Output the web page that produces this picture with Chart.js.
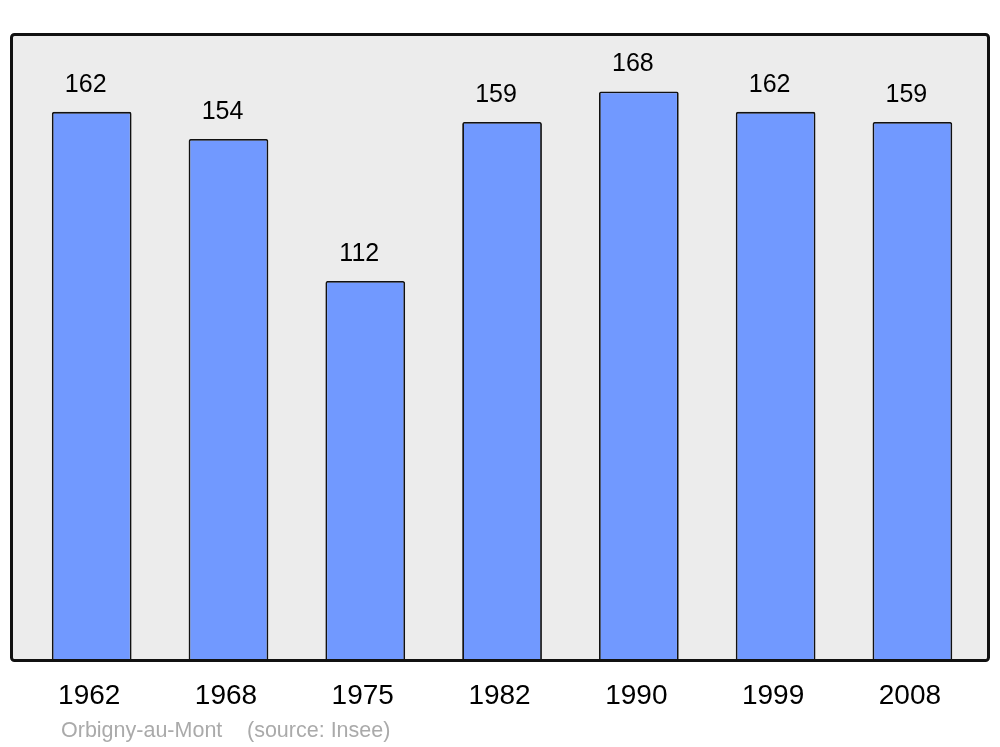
<!DOCTYPE html>
<html>
<head>
<meta charset="utf-8">
<script src="https://cdn.jsdelivr.net/npm/chart.js@4"></script>
<style>
  html, body { margin: 0; padding: 0; background: #ffffff; }
  #wrap { width: 1000px; height: 747px; }
</style>
</head>
<body>
<div id="wrap"><canvas id="c" width="1000" height="747"></canvas></div>
<script>
const years = ["1962", "1968", "1975", "1982", "1990", "1999", "2008"];
const population = [162, 154, 112, 159, 168, 162, 159];
const commune = "Orbigny-au-Mont";
const sourceNote = "(source: Insee)";

const points = years.map((y, i) => ({ x: i, y: population[i] }));

const FONT = '"Liberation Sans", Arial, sans-serif';

const framePlugin = {
  id: 'frame',
  beforeDraw(chart) {
    const { ctx, chartArea: a } = chart;
    ctx.save();
    ctx.fillStyle = '#ececec';
    ctx.fillRect(a.left, a.top, a.right - a.left, a.bottom - a.top);
    ctx.restore();
  },
  afterDatasetsDraw(chart) {
    const { ctx, chartArea: a } = chart;
    ctx.save();
    ctx.strokeStyle = '#111111';
    ctx.lineWidth = 3;
    ctx.lineJoin = 'round';
    const r = 3;
    const l = a.left + 0.5, t = a.top + 0.5, rr = a.right - 0.5, b = a.bottom + 0.5;
    ctx.beginPath();
    ctx.moveTo(l + r, t);
    ctx.lineTo(rr - r, t);
    ctx.arcTo(rr, t, rr, t + r, r);
    ctx.lineTo(rr, b - r);
    ctx.arcTo(rr, b, rr - r, b, r);
    ctx.lineTo(l + r, b);
    ctx.arcTo(l, b, l, b - r, r);
    ctx.lineTo(l, t + r);
    ctx.arcTo(l, t, l + r, t, r);
    ctx.closePath();
    ctx.stroke();

    // value labels above bars
    const meta = chart.getDatasetMeta(0);
    ctx.fillStyle = '#000000';
    ctx.font = '25px ' + FONT;
    ctx.textAlign = 'center';
    ctx.textBaseline = 'middle';
    meta.data.forEach((el, i) => {
      ctx.fillText(String(population[i]), el.x - 6, el.y - 27);
    });

    // source note
    ctx.fillStyle = '#aaaaaa';
    ctx.font = '21.5px ' + FONT;
    ctx.textAlign = 'left';
    ctx.textBaseline = 'alphabetic';
    ctx.fillText(commune, 61, 737);
    ctx.fillText(sourceNote, 247, 737);
    ctx.restore();
  }
};

new Chart(document.getElementById('c'), {
  type: 'bar',
  data: {
    datasets: [{
      data: points,
      backgroundColor: '#7199ff',
      borderColor: '#111111',
      borderWidth: 1.8,
      borderRadius: 2,
      borderSkipped: 'start',
      barPercentage: 0.583,
      categoryPercentage: 1.0
    }]
  },
  options: {
    responsive: false,
    animation: false,
    devicePixelRatio: 1,
    layout: { padding: { left: 11, right: 11, top: 34, bottom: 15.4 } },
    plugins: {
      legend: { display: false },
      tooltip: { enabled: false },
      title: { display: false }
    },
    scales: {
      x: {
        type: 'linear',
        offset: false,
        min: -0.59,
        max: 6.56,
        grid: { display: false, drawTicks: false, offset: false },
        border: { display: false },
        afterBuildTicks(scale) {
          scale.ticks = years.map((_, i) => ({ value: i }));
        },
        ticks: {
          autoSkip: false,
          maxRotation: 0,
          padding: 19,
          labelOffset: -2.5,
          color: '#000000',
          font: { family: FONT, size: 28 },
          callback: (v) => years[v]
        }
      },
      y: {
        display: false,
        min: 0,
        max: 185
      }
    }
  },
  plugins: [framePlugin]
});
</script>
</body>
</html>
